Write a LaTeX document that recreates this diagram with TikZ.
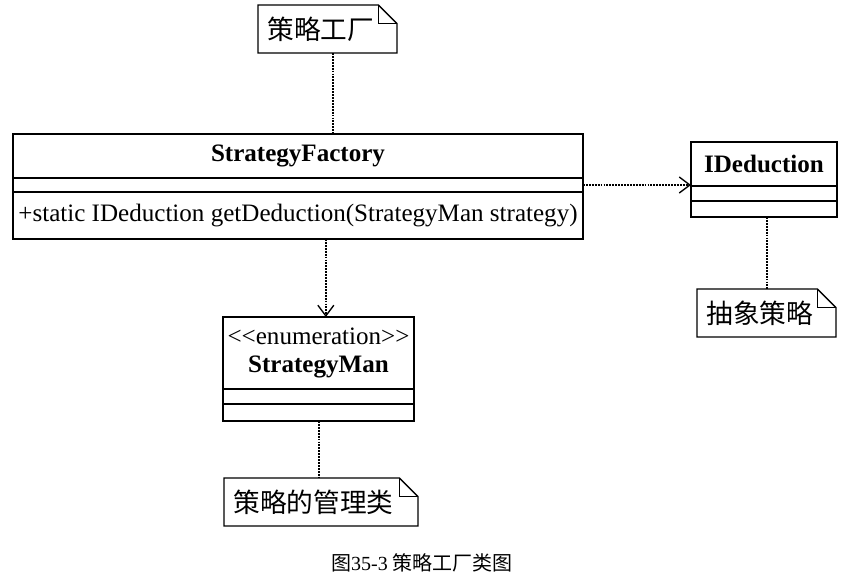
\documentclass[tikz,border=0pt]{standalone}
\usepackage{fontspec}
\setmainfont{Liberation Serif}
\newfontfamily\cjk{Noto Sans CJK SC}
\usetikzlibrary{positioning,arrows.meta}
\tikzset{every picture/.style={line width=0.75pt}}
\tikzset{
	cls/.style={draw, line width=1.5pt, inner sep=0pt, outer sep=0pt, font=\fontsize{18.8}{21}\selectfont},
	umlnote/.style={inner xsep=7pt, inner ysep=0pt, outer sep=0pt, minimum height=36pt, align=left, font=\cjk\fontsize{20}{22}\selectfont},
	noteline/.style={line width=1.5pt, dash pattern=on 1.4pt off 0.8pt},
	depline/.style={noteline, -{Straight Barb[length=8pt,width=12pt,line width=1pt]}}
}

\begin{document}
\begin{tikzpicture}[x=0.75pt,y=0.75pt,yscale=-1,xscale=1]
		%set diagram size to 845 x 585
		\useasboundingbox (0,0) rectangle (845,585);
		
		%Class: StrategyFactory
		\node [cls, minimum width=427.5pt, minimum height=33pt] (sfname) at (298,156) {\bfseries StrategyFactory};
		\node [cls, minimum width=427.5pt, minimum height=10.5pt, below=0pt of sfname] (sfattr) {};
		\node [cls, minimum width=427.5pt, minimum height=35.25pt, below=0pt of sfattr] (sfops) {+static IDeduction getDeduction(StrategyMan strategy)};
		
		%Class: IDeduction
		\node [cls, minimum width=109.5pt, minimum height=33pt] (idname) at (764,164) {\bfseries IDeduction};
		\node [cls, minimum width=109.5pt, minimum height=11.25pt, below=0pt of idname] (idattr) {};
		\node [cls, minimum width=109.5pt, minimum height=12pt, below=0pt of idattr] (idops) {};
		
		%Class: StrategyMan
		\node [cls, minimum width=143.25pt, minimum height=54pt, align=center] (smname) at (318.5,353) {{<}{<}enumeration{>}{>}\\\bfseries StrategyMan};
		\node [cls, minimum width=143.25pt, minimum height=11.25pt, below=0pt of smname] (smattr) {};
		\node [cls, minimum width=143.25pt, minimum height=12.75pt, below=0pt of smattr] (smops) {};
		
		% Text Node
		\node [umlnote, text width=90.25pt] (nfac) at (327.5,29) {策略工厂};
		% Text Node
		\node [umlnote, text width=90.25pt] (nabs) at (766.5,313) {抽象策略};
		% Text Node
		\node [umlnote, text width=131.5pt] (nman) at (321,502) {策略的管理类};
		
		%Shape: Note
		\foreach \n in {nfac,nabs,nman}{
			\draw [line width=1pt] (\n.north west) -- ([xshift=-14pt]\n.north east) -- ([yshift=14pt]\n.north east) -- (\n.south east) -- (\n.south west) -- cycle ;
			\draw [line width=1pt] ([xshift=-14pt]\n.north east) |- ([yshift=14pt]\n.north east) ;
		}
		
		%Straight Lines
		\draw [noteline] ([xshift=4pt]nfac.south) -- ([xshift=4pt]nfac.south |- sfname.north) ;
		\draw [noteline] (nabs.north |- idops.south) -- (nabs.north) ;
		\draw [noteline] (smops.south) -- (smops.south |- nman.north) ;
		
		%Dependencies
		\draw [depline] (sfattr.east) -- (sfattr.east -| idname.west) ;
		\draw [depline] ([xshift=5.5pt]smname.north |- sfops.south) -- ([xshift=5.5pt]smname.north) ;
		
		% Text Node
		\node [font=\fontsize{15}{17}\selectfont] (cap) at (422,563) {{\cjk 图}35-3 {\cjk 策略工厂类图}};
		
\end{tikzpicture}
\end{document}
